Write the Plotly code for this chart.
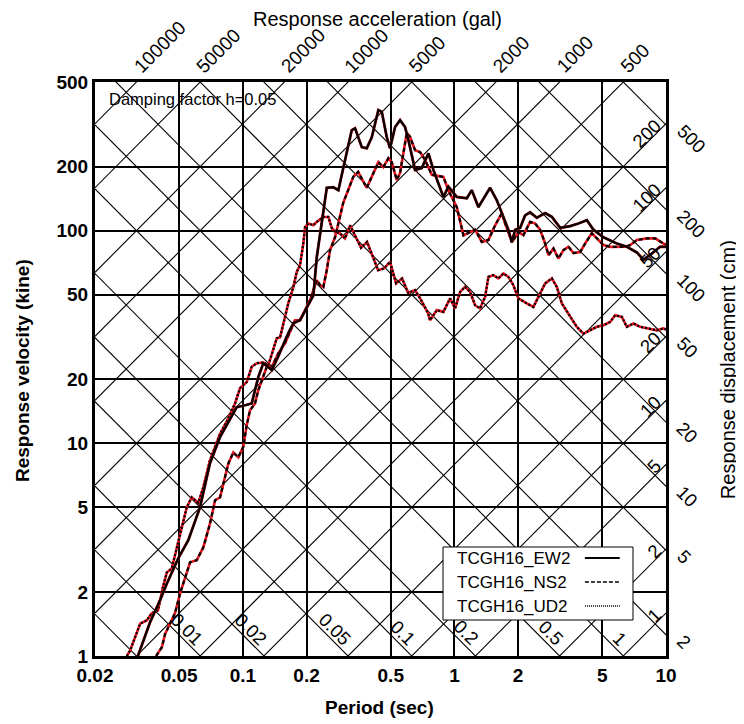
import numpy as np
import plotly.graph_objects as go

# ---------------- data ----------------
ew_period = [0.0319, 0.0364, 0.0406, 0.0437, 0.0495, 0.0552, 0.0627, 0.0699, 0.0780, 0.0935,
             0.1024, 0.1101, 0.1183, 0.1249, 0.1370, 0.1471, 0.1640, 0.1732, 0.1863, 0.2004,
             0.2154, 0.2235, 0.2317, 0.2401, 0.2492, 0.2677, 0.2828, 0.3041, 0.3271, 0.3391,
             0.3648, 0.3851, 0.4067, 0.4370, 0.4535, 0.4788, 0.4963, 0.5241, 0.5535, 0.5843,
             0.6057, 0.6516, 0.7010, 0.7532, 0.7953, 0.8867, 0.9363, 1.026, 1.144, 1.208,
             1.298, 1.474, 1.586, 1.675, 1.799, 1.867, 1.936, 2.044, 2.158, 2.279,
             2.452, 2.684, 2.887, 3.160, 3.523, 3.856, 4.225, 4.539, 5.062, 5.857,
             6.530, 7.281, 7.824, 8.417, 9.385, 10.0]
ew_velocity = [1.0, 1.44, 1.83, 2.19, 2.88, 3.50, 5.0, 8.05, 10.7, 14.8,
               15.1, 15.4, 20.5, 23.8, 22.1, 25.7, 33.0, 36.7, 37.9, 43.2,
               49.6, 75.0, 97.0, 125, 159, 160, 155, 215, 297, 303,
               247, 244, 275, 369, 362, 275, 244, 307, 331, 307,
               267, 193, 197, 231, 193, 144, 161, 144, 142, 155,
               129, 159, 139, 121, 101, 88, 101, 103, 118, 122,
               115, 121, 116, 103, 105, 108, 112, 101, 93, 87,
               84, 79, 73, 77, 84, 84]

ns_period = [0.0389, 0.0414, 0.0429, 0.0453, 0.0478, 0.0505, 0.0533, 0.0563, 0.0605, 0.0650,
             0.0699, 0.0739, 0.0780, 0.0854, 0.0901, 0.0952, 0.1005, 0.1043, 0.1081, 0.1141,
             0.1183, 0.1228, 0.1297, 0.1370, 0.1471, 0.1583, 0.1702, 0.1764, 0.1863, 0.1967,
             0.2077, 0.2154, 0.2235, 0.2317, 0.2401, 0.2492, 0.2583, 0.2728, 0.2980, 0.3325,
             0.3507, 0.3851, 0.4067, 0.4370, 0.4612, 0.4870, 0.5056, 0.5339, 0.5535, 0.5953,
             0.6171, 0.6516, 0.6880, 0.7266, 0.7817, 0.8867, 0.9363, 1.026, 1.103, 1.186,
             1.252, 1.347, 1.447, 1.557, 1.675, 1.736, 1.833, 1.900, 2.006, 2.119,
             2.279, 2.407, 2.541, 2.684, 2.783, 2.938, 3.101, 3.275, 3.458, 3.652,
             3.928, 4.148, 4.462, 4.711, 5.062, 5.445, 5.857, 6.410, 6.770, 7.281,
             8.120, 8.889, 9.727, 10.0]
ns_velocity = [1.0, 1.10, 1.27, 1.41, 1.59, 1.97, 2.34, 2.76, 2.82, 3.24,
               4.19, 5.40, 5.57, 8.05, 9.05, 8.6, 9.65, 12.2, 14.3, 15.4,
               17.8, 19.8, 22.9, 22.9, 26.5, 29.6, 35.2, 37.9, 37.9, 42.3,
               47.1, 52.5, 58.5, 55.4, 54.3, 65.2, 81.0, 93.3, 135, 179,
               189, 159, 179, 210, 199, 219, 210, 173, 187, 288,
               276, 239, 234, 215, 183, 179, 155, 129, 95, 98,
               101, 88.5, 90.3, 106, 121, 108, 93.3, 90.3, 98.5, 95.3,
               110, 108, 101, 87, 76.7, 82.5, 74, 81, 84, 78.5,
               79.3, 87, 97.3, 92, 85.5, 83.9, 84, 84, 85.5, 90.3,
               92, 92, 87, 86]

ud_period = [0.0283, 0.0293, 0.0327, 0.0351, 0.0371, 0.0397, 0.0419, 0.0437, 0.0461, 0.0487,
             0.0543, 0.0573, 0.0616, 0.0650, 0.0699, 0.0780, 0.0854, 0.0918, 0.0970, 0.1043,
             0.1101, 0.1163, 0.1249, 0.1320, 0.1370, 0.1446, 0.1499, 0.1583, 0.1640, 0.1732,
             0.1797, 0.1863, 0.1931, 0.1967, 0.2039, 0.2154, 0.2235, 0.2401, 0.2536, 0.2631,
             0.2728, 0.2880, 0.3041, 0.3211, 0.3428, 0.3620, 0.3864, 0.4080, 0.4355, 0.4649,
             0.4963, 0.5300, 0.5657, 0.6037, 0.6516, 0.6960, 0.7510, 0.7672, 0.8253, 0.8867,
             0.9539, 1.007, 1.064, 1.123, 1.186, 1.252, 1.322, 1.396, 1.447, 1.528,
             1.614, 1.704, 1.799, 1.900, 2.006, 2.198, 2.362, 2.495, 2.684, 2.887,
             3.048, 3.218, 3.458, 3.789, 4.071, 4.380, 4.711, 5.062, 5.445, 5.749,
             6.184, 6.530, 7.018, 7.547, 8.263, 9.055, 9.727, 10.0]
ud_velocity = [1.0, 1.06, 1.42, 1.47, 1.59, 1.64, 2.11, 2.47, 2.58, 3.24,
               5.0, 5.57, 5.25, 6.21, 8.32, 11.1, 13.1, 15.4, 18.2, 19.4,
               22.9, 23.8, 24.0, 23.3, 26.5, 31.2, 31.5, 39.3, 45.6, 54.3,
               64.0, 68.8, 87.2, 104, 108, 106, 110, 116, 116, 103,
               98.4, 97.0, 92, 106, 92, 83, 88.5, 76.7, 65.2, 66.4,
               71.4, 56.5, 59.6, 51, 52.5, 47.1, 40.8, 37.9, 42.3, 41.5,
               48, 43.1, 51.5, 54.4, 51.5, 44.6, 43.1, 48.8, 60.6, 61.8,
               59.6, 62.9, 60.6, 55.4, 48, 45.5, 43.8, 48.8, 56.5, 59.6,
               54.4, 45.5, 40.8, 35.3, 32.8, 34, 35.3, 35.9, 37.2, 40,
               39.3, 35.3, 36.6, 35.3, 34.7, 34, 34.7, 34.3]

series_names = ["TCGH16_EW2", "TCGH16_NS2", "TCGH16_UD2"]

period_ticks = [0.02, 0.05, 0.1, 0.2, 0.5, 1, 2, 5, 10]
period_labels = ["0.02", "0.05", "0.1", "0.2", "0.5", "1", "2", "5", "10"]
velocity_ticks = [1, 2, 5, 10, 20, 50, 100, 200, 500]
velocity_labels = ["1", "2", "5", "10", "20", "50", "100", "200", "500"]

accel_lines = [1, 2, 5, 10, 20, 50, 100, 200, 500, 1000, 2000, 5000, 10000, 20000, 50000, 100000]
disp_lines = [0.005, 0.01, 0.02, 0.05, 0.1, 0.2, 0.5, 1, 2, 5, 10, 20, 50, 100, 200, 500]
accel_top_labels = [500, 1000, 2000, 5000, 10000, 20000, 50000, 100000]
accel_right_labels = [1, 2, 5, 10, 20, 50, 100, 200]
disp_right_labels = [2, 5, 10, 20, 50, 100, 200, 500]
disp_bottom_labels = [0.01, 0.02, 0.05, 0.1, 0.2, 0.5, 1]

T_MIN, T_MAX = 0.02, 10.0
V_MIN, V_MAX = 1.0, 500.0
TWO_PI = 2 * np.pi

FONT = "Liberation Sans, Arial, sans-serif"

fig = go.Figure()

# ---------------- tripartite diagonal grid ----------------
ax, ay = [], []
for a in accel_lines:
    ax += [T_MIN, T_MAX, None]
    ay += [a * T_MIN / TWO_PI, a * T_MAX / TWO_PI, None]
dx_, dy_ = [], []
for d in disp_lines:
    dx_ += [T_MIN, T_MAX, None]
    dy_ += [TWO_PI * d / T_MIN, TWO_PI * d / T_MAX, None]
fig.add_trace(go.Scatter(x=ax, y=ay, mode="lines", line=dict(color="black", width=1.1),
                         showlegend=False, hoverinfo="skip"))
fig.add_trace(go.Scatter(x=dx_, y=dy_, mode="lines", line=dict(color="black", width=1.1),
                         showlegend=False, hoverinfo="skip"))

# ---------------- spectra ----------------
RED = "#e8141e"
fig.add_trace(go.Scatter(x=ud_period, y=ud_velocity, mode="lines",
                         line=dict(color=RED, width=2.6), showlegend=False, hoverinfo="skip"))
fig.add_trace(go.Scatter(x=ud_period, y=ud_velocity, mode="lines", name=series_names[2],
                         line=dict(color="black", width=2.2, dash="2px,2px"), showlegend=False))
fig.add_trace(go.Scatter(x=ns_period, y=ns_velocity, mode="lines",
                         line=dict(color=RED, width=2.6), showlegend=False, hoverinfo="skip"))
fig.add_trace(go.Scatter(x=ns_period, y=ns_velocity, mode="lines", name=series_names[1],
                         line=dict(color="black", width=2.2, dash="4px,3px"), showlegend=False))
fig.add_trace(go.Scatter(x=ew_period, y=ew_velocity, mode="lines",
                         line=dict(color="#c01010", width=2.8), showlegend=False, hoverinfo="skip"))
fig.add_trace(go.Scatter(x=ew_period, y=ew_velocity, mode="lines", name=series_names[0],
                         line=dict(color="black", width=2.2), showlegend=False))

# ---------------- rotated scale labels ----------------
C45 = 0.7071
annotations = []
LBL = 18.5


def text_len(s, size):
    w = 0.0
    for ch in s:
        w += 0.278 if ch == "." else 0.556
    return w * size


def fmt(v):
    return ("%g" % v)


# acceleration labels above the top edge
for a in accel_top_labels:
    t = TWO_PI * V_MAX / a
    txt = fmt(a)
    half = text_len(txt, 19) / 2
    s, p = half + 9.0, 8.8
    annotations.append(dict(x=np.log10(t), y=np.log10(V_MAX), xref="x", yref="y", text=txt,
                            showarrow=False, textangle=-45, xanchor="center", yanchor="middle",
                            xshift=C45 * (s - p), yshift=C45 * (s + p),
                            font=dict(family=FONT, size=19, color="black")))

# acceleration labels inside along the right edge
for a in accel_right_labels:
    v = a * T_MAX / TWO_PI
    txt = fmt(a)
    half = text_len(txt, LBL) / 2
    s, p = half + 5.0, 7.0
    annotations.append(dict(x=np.log10(T_MAX), y=np.log10(v), xref="x", yref="y", text=txt,
                            showarrow=False, textangle=-45, xanchor="center", yanchor="middle",
                            xshift=-C45 * (s + p), yshift=-C45 * (s - p),
                            font=dict(family=FONT, size=LBL, color="black")))

# displacement labels outside the right edge
for d in disp_right_labels:
    v = TWO_PI * d / T_MAX
    txt = fmt(d)
    half = text_len(txt, LBL) / 2
    s, p = half + 12.0, 8.0
    annotations.append(dict(x=np.log10(T_MAX), y=np.log10(v), xref="x", yref="y", text=txt,
                            showarrow=False, textangle=45, xanchor="center", yanchor="middle",
                            xshift=C45 * (s + p), yshift=-C45 * (s - p),
                            font=dict(family=FONT, size=LBL, color="black")))

# displacement labels inside along the bottom edge
for d in disp_bottom_labels:
    t = TWO_PI * d / V_MIN
    txt = fmt(d)
    half = text_len(txt, LBL) / 2
    s, p = half + 10.0, 10.0
    annotations.append(dict(x=np.log10(t), y=np.log10(V_MIN), xref="x", yref="y", text=txt,
                            showarrow=False, textangle=45, xanchor="center", yanchor="middle",
                            xshift=C45 * (p - s), yshift=C45 * (s + p),
                            font=dict(family=FONT, size=LBL, color="black")))

# titles & notes
annotations += [
    dict(x=0.499, y=-0.089, xref="paper", yref="paper", text="<b>Period (sec)</b>", showarrow=False,
         xanchor="center", yanchor="middle", font=dict(family=FONT, size=19, color="black")),
    dict(x=-0.128, y=0.498, xref="paper", yref="paper", text="<b>Response velocity (kine)</b>",
         showarrow=False, textangle=-90, xanchor="center", yanchor="middle",
         font=dict(family=FONT, size=19, color="black")),
    dict(x=0.4956, y=1.11, xref="paper", yref="paper", text="Response acceleration (gal)",
         showarrow=False, xanchor="center", yanchor="middle",
         font=dict(family=FONT, size=20, color="black")),
    dict(x=1.1086, y=0.498, xref="paper", yref="paper", text="Response displacement (cm)",
         showarrow=False, textangle=-90, xanchor="center", yanchor="middle",
         font=dict(family=FONT, size=20, color="black")),
    dict(x=0.021, y=0.970, xref="paper", yref="paper", text="Damping factor h=0.05",
         showarrow=False, xanchor="left", yanchor="middle",
         font=dict(family=FONT, size=16.5, color="black")),
]

# ---------------- custom legend (names left, line samples right) ----------------
shapes = [dict(type="rect", xref="paper", yref="paper", x0=0.6095, x1=0.9422, y0=0.0627, y1=0.1899,
               line=dict(color="black", width=1), fillcolor="white", layer="above")]
legend_rows = [0.1707, 0.1289, 0.0871]
legend_dash = ["solid", "4px,2px", "1px,1px"]
legend_width = [2.2, 1.6, 1.6]
for name, yy, dsh, lw in zip(series_names, legend_rows, legend_dash, legend_width):
    annotations.append(dict(x=0.6305, y=yy, xref="paper", yref="paper", text=name, showarrow=False,
                            xanchor="left", yanchor="middle",
                            font=dict(family=FONT, size=17, color="black")))
    shapes.append(dict(type="line", xref="paper", yref="paper", x0=0.858, x1=0.919, y0=yy, y1=yy,
                       line=dict(color="black", width=lw, dash=dsh), layer="above"))

axis_common = dict(type="log", showgrid=True, gridcolor="black", gridwidth=1.6,
                   showline=True, linecolor="black", linewidth=3, mirror=True,
                   zeroline=False, ticks="", fixedrange=True,
                   tickfont=dict(family=FONT, size=19, color="black", weight="bold"))

# the page adds an 8px body margin, so the figure is 8px smaller and margins shifted
fig.update_layout(
    width=736, height=716,
    margin=dict(l=87, r=78, t=74, b=68),
    paper_bgcolor="white", plot_bgcolor="white",
    showlegend=False,
    xaxis=dict(range=[np.log10(T_MIN), np.log10(T_MAX)], tickvals=period_ticks,
               ticktext=period_labels, ticklabelstandoff=0, **axis_common),
    yaxis=dict(range=[np.log10(V_MIN), np.log10(V_MAX)], tickvals=velocity_ticks,
               ticktext=velocity_labels, ticklabelstandoff=0, **axis_common),
    annotations=annotations,
    shapes=shapes,
)

fig.write_html("out.html")
